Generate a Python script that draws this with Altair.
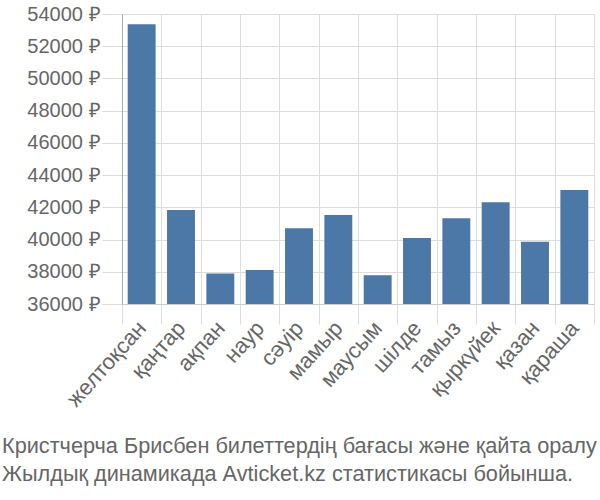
import altair as alt
import pandas as pd

months = ["желтоқсан", "қаңтар", "ақпан", "наур", "сәуір", "мамыр", "маусым",
          "шілде", "тамыз", "қыркүйек", "қазан", "қараша"]
prices = [53360, 41830, 37900, 38110, 40700, 41520, 37780, 40100, 41320, 42310, 39870, 43080]
y_ticks = [36000, 38000, 40000, 42000, 44000, 46000, 48000, 50000, 52000, 54000]
title_lines = ["Кристчерча Брисбен билеттердің бағасы және қайта оралу",
               "Жылдық динамикада Avticket.kz статистикасы бойынша."]

df = pd.DataFrame({"month": months, "price": prices})

FONT = "Liberation Sans"

chart = alt.Chart(df).mark_bar(color="#4c78a8", width=alt.RelativeBandSize(0.71), clip=True).encode(
    x=alt.X("month:N", sort=months, title=None,
            scale=alt.Scale(paddingInner=0, paddingOuter=0),
            axis=alt.Axis(labelAngle=-48, labelAlign="right", labelBaseline="middle",
                          labelFontSize=22, labelColor="#666666",
                          labelFont=FONT, tickBand="extent", tickSize=20,
                          tickColor="#dddddd", domainColor="#cccccc",
                          gridColor="#dddddd", grid=True, labelPadding=0)),
    y=alt.Y("price:Q", title=None,
            scale=alt.Scale(domain=[36000, 54000], zero=False, nice=False),
            axis=alt.Axis(values=y_ticks, labelExpr="format(datum.value,'d') + ' ₽'",
                          labelFontSize=20, labelColor="#666666", labelFont=FONT,
                          tickSize=20, tickColor="#dddddd", domainColor="#aaaaaa",
                          gridColor="#dddddd", labelPadding=2)),
).properties(
    width=472, height=290,
    autosize=alt.AutoSizeParams(type="none"),
    padding={"left": 122, "top": 14, "right": 6, "bottom": 196},
    title=alt.Title(title_lines, orient="bottom", anchor="start", align="left",
                    frame="group", fontSize=21.7, font=FONT, fontWeight="normal",
                    color="#666666", offset=26, dx=-120, lineHeight=28),
).configure_view(stroke=None)

chart.save("out.html", embed_options={"renderer": "svg", "actions": False})
